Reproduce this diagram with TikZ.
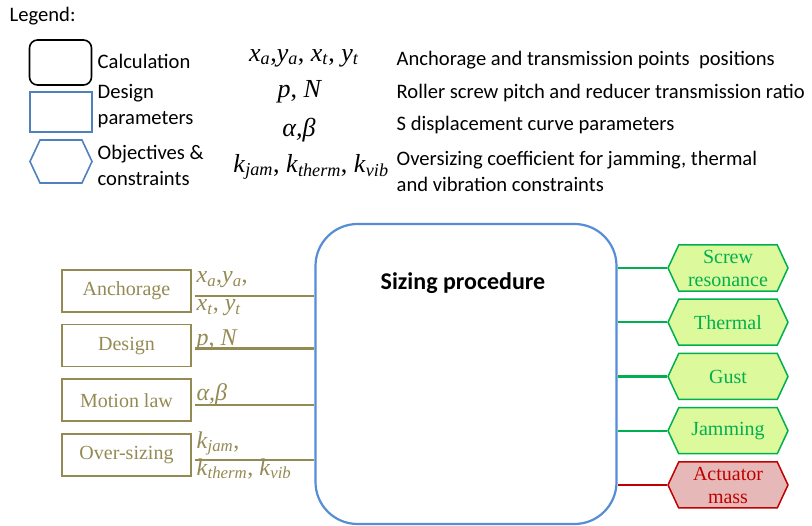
\documentclass[tikz,border=0pt]{standalone}
\usepackage{fontspec}
\setmainfont{Liberation Serif}
\newfontfamily\calibri{Carlito}
\usetikzlibrary{shapes.symbols}

\definecolor{inolive}{HTML}{948A54}
\definecolor{procblue}{HTML}{558ED5}
\definecolor{legblue}{HTML}{4F81BD}
\definecolor{goalgreen}{HTML}{00B050}
\definecolor{goalfill}{HTML}{DCF99C}
\definecolor{massred}{HTML}{C00000}
\definecolor{massfill}{HTML}{E6B9B8}

\newcommand\vsub[2]{\textit{#1}\textsubscript{\textit{#2}}}

\begin{document}
\begin{tikzpicture}
  [x=1pt,y=-1pt,
   every node/.style={inner sep=1.5pt},
   legtext/.style={font=\calibri\fontsize{20.6}{26}\selectfont,anchor=west,align=left},
   legmath/.style={font=\fontsize{26}{28}\selectfont},
   inbox/.style={draw=inolive,line width=1.8pt,minimum width=129pt,minimum height=42pt,
     text=inolive,font=\fontsize{20}{24}\selectfont},
   inline/.style={draw=inolive,line width=2.2pt},
   inlabel/.style={text=inolive,font=\fontsize{24}{26}\selectfont,anchor=base west},
   goal/.style={signal,signal to=east and west,signal pointer angle=130,draw=goalgreen,
     fill=goalfill,line width=1.5pt,text=goalgreen,minimum width=120pt,minimum height=46pt,
     align=center,font=\fontsize{20}{23}\selectfont},
   massgoal/.style={goal,draw=massred,fill=massfill,text=massred},
   goalline/.style={draw=goalgreen,line width=2.2pt},
   calcbox/.style={draw=procblue,line width=2.2pt,rounded corners=42pt,
     minimum width=301pt,minimum height=300pt}]

  \useasboundingbox (0,0) rectangle (812,526);

  % legend
  \node[legtext] (legend) at (8,16) {Legend:};
  \node[draw=black,line width=1.6pt,rounded corners=8pt,minimum width=62pt,minimum height=45pt]
    (legcalc) at (60.5,62.5) {};
  \node[draw=legblue,line width=1.6pt,minimum width=62pt,minimum height=40pt]
    (legdesign) at (61,112) {};
  \node[signal,signal to=east and west,signal pointer angle=130,draw=legblue,line width=1.6pt,
    minimum width=62pt,minimum height=43pt] (legobj) at (61,161.5) {};
  \node[legtext] (calctext) at (96,61) {Calculation};
  \node[legtext] (designtext) at (96,106) {Design\\parameters};
  \node[legtext] (objtext) at (96,165) {Objectives \&\\constraints};

  \node[legmath] (m1) at (304,58) {\vsub{x}{a},\vsub{y}{a}, \vsub{x}{t}, \vsub{y}{t}};
  \node[legmath] (m2) at (300,92) {\textit{p}, \textit{N}};
  \node[legmath] (m3) at (299,130) {\textit{α,β}};
  \node[legmath] (m4) at (311,167) {\vsub{k}{jam}, \vsub{k}{therm}, \vsub{k}{vib}};

  \node[legtext] (d1) at (395,60) {Anchorage and transmission points\ \ positions};
  \node[legtext] (d2) at (395,93) {Roller screw pitch and reducer transmission ratio};
  \node[legtext] (d3) at (395,125) {S displacement curve parameters};
  \node[legtext] (d4) at (395,171) {Oversizing coefficient for jamming, thermal\\and vibration constraints};

  % sizing procedure
  \node[calcbox] (box) at (466,374) {};
  \node[font=\calibri\bfseries\fontsize{24}{28}\selectfont] (title) at (463,283) {Sizing procedure};

  % design parameters
  \matrix (inputs) [row sep=11pt] at (126.5,373)
  {
    \node[inbox] (anch) {Anchorage}; \\
    \node[inbox] (design) {Design}; \\
    \node[inbox] (motion) {Motion law}; \\
    \node[inbox] (over) {Over-sizing}; \\
  };

  \draw[inline] ([shift={(3pt,-5pt)}]anch.east) coordinate (ain) -- (ain -| box.west);
  \draw[inline] ([shift={(3pt,-3pt)}]design.east) coordinate (din) -- (din -| box.west);
  \draw[inline] ([shift={(3pt,-5pt)}]motion.east) coordinate (min) -- (min -| box.west);
  \draw[inline] ([shift={(3pt,-5pt)}]over.east) coordinate (oin) -- (oin -| box.west);

  \node[inlabel] (ainup) at ([yshift=13pt]ain) {\vsub{x}{a},\vsub{y}{a},};
  \node[inlabel] (aindown) at ([yshift=-15pt]ain) {\vsub{x}{t}, \vsub{y}{t}};
  \node[inlabel] (dinup) at ([yshift=3pt]din) {\textit{p}, \textit{N}};
  \node[inlabel] (minup) at ([yshift=5pt]min) {\textit{α,β}};
  \node[inlabel] (oinup) at ([yshift=12pt]oin) {\vsub{k}{jam},};
  \node[inlabel] (oindown) at ([yshift=-15pt]oin) {\vsub{k}{therm}, \vsub{k}{vib}};

  % objectives and constraints
  \matrix (goals) [row sep=6.75pt] at (728,376.5)
  {
    \node[goal] (screw) {Screw\\resonance}; \\
    \node[goal] (thermal) {Thermal}; \\
    \node[goal] (gust) {Gust}; \\
    \node[goal] (jam) {Jamming}; \\
    \node[massgoal] (mass) {Actuator\\mass}; \\
  };

  \draw[goalline] (screw.west) -- (screw.west -| box.east);
  \draw[goalline] (thermal.west) -- (thermal.west -| box.east);
  \draw[goalline] (gust.west) -- (gust.west -| box.east);
  \draw[goalline] (jam.west) -- (jam.west -| box.east);
  \draw[goalline,draw=massred] (mass.west) -- (mass.west -| box.east);
\end{tikzpicture}
\end{document}
